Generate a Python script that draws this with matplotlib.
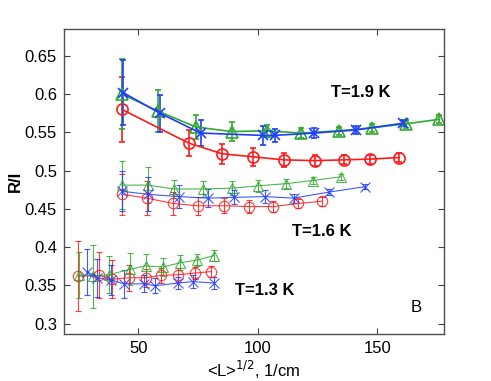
import matplotlib
matplotlib.use("Agg")
import matplotlib.pyplot as plt
from matplotlib.ticker import FormatStrFormatter

plt.rcParams['font.family'] = ['Liberation Sans', 'DejaVu Sans']

# ---- T = 1.9 K ----
x19_red = [43, 71, 85, 98, 111, 124, 136, 147, 159]
y19_red = [0.580, 0.536, 0.522, 0.518, 0.514, 0.513, 0.514, 0.515, 0.517]
e19_red = [0.042, 0.017, 0.013, 0.012, 0.009, 0.007, 0.006, 0.006, 0.006]

x19_green = [43, 58, 74, 89, 104, 118, 134, 148, 162, 176]
y19_green = [0.600, 0.578, 0.557, 0.551, 0.552, 0.549, 0.552, 0.556, 0.561, 0.567]
e19_green = [0.046, 0.027, 0.016, 0.012, 0.008, 0.006, 0.005, 0.005, 0.005, 0.005]

x19_blue = [43.5, 59, 76, 102, 107, 123.5, 141, 161]
y19_blue = [0.602, 0.575, 0.549, 0.546, 0.546, 0.549, 0.553, 0.562]
e19_blue = [0.042, 0.024, 0.017, 0.012, 0.008, 0.006, 0.005, 0.004]

# ---- T = 1.6 K ----
x16_red = [43, 53.5, 64.5, 75, 86, 96.5, 106.5, 117, 127]
y16_red = [0.469, 0.464, 0.457, 0.454, 0.454, 0.453, 0.453, 0.457, 0.460]
e16_red = [0.027, 0.022, 0.015, 0.012, 0.010, 0.008, 0.007, 0.006, 0.006]

x16_green = [43, 54, 65, 77, 89, 100, 112, 123, 135]
y16_green = [0.481, 0.481, 0.476, 0.476, 0.477, 0.480, 0.483, 0.487, 0.492]
e16_green = [0.031, 0.024, 0.012, 0.010, 0.009, 0.008, 0.006, 0.005, 0.004]

x16_blue = [43, 54, 67, 79, 90, 103, 115, 130, 145]
y16_blue = [0.473, 0.469, 0.466, 0.464, 0.465, 0.466, 0.464, 0.472, 0.479]
e16_blue = [0.026, 0.022, 0.015, 0.012, 0.009, 0.008, 0.006, 0.004, 0.003]

# ---- T = 1.3 K ----
x13_red = [24.7, 33.5, 39, 46, 53, 59.4, 66.5, 73.5, 80.3]
y13_red = [0.362, 0.363, 0.358, 0.360, 0.360, 0.363, 0.364, 0.366, 0.368]
e13_red = [0.046, 0.030, 0.025, 0.017, 0.012, 0.010, 0.009, 0.008, 0.007]

x13_green = [25, 31, 37.7, 46.4, 53, 60.2, 67.4, 74.5, 81.7]
y13_green = [0.364, 0.362, 0.364, 0.371, 0.3755, 0.374, 0.3795, 0.383, 0.389]
e13_green = [0.030, 0.041, 0.024, 0.021, 0.015, 0.012, 0.010, 0.008, 0.007]

x13_blue = [28.5, 32.7, 38.5, 44, 52.3, 57, 66.4, 73, 81.6]
y13_blue = [0.368, 0.360, 0.357, 0.352, 0.352, 0.3495, 0.353, 0.355, 0.353]
e13_blue = [0.030, 0.025, 0.020, 0.018, 0.011, 0.010, 0.008, 0.008, 0.008]

x_ticks = [50, 100, 150]
y_ticks = [0.3, 0.35, 0.4, 0.45, 0.5, 0.55, 0.6, 0.65]

RED = '#ff1a1a'
GREEN = '#33a833'
BLUE = '#1f3cff'

W, H = 491, 381
fig = plt.figure(figsize=(W / 100, H / 100), dpi=100)
ax = fig.add_axes([0.1303, 0.1234, 0.774, 0.8005])

def series(x, y, e, color, marker, lw, ms, alpha=1.0):
    ax.errorbar(x, y, yerr=e, color=color, marker=marker, mfc='none', mec=color,
                ms=ms, lw=lw, elinewidth=lw, capsize=2.5, capthick=lw,
                mew=lw, alpha=alpha)

# thick 1.9 K
series(x19_red, y19_red, e19_red, RED, 'o', 1.2, 8)
series(x19_green, y19_green, e19_green, GREEN, '^', 1.2, 8)
series(x19_blue, y19_blue, e19_blue, BLUE, 'x', 1.2, 7.5)

# thin 1.6 K
series(x16_red, y16_red, e16_red, RED, 'o', 0.8, 7.5, 0.85)
series(x16_green, y16_green, e16_green, GREEN, '^', 0.8, 7.5, 0.85)
series(x16_blue, y16_blue, e16_blue, BLUE, 'x', 0.8, 7, 0.85)

# thin 1.3 K
series(x13_red, y13_red, e13_red, RED, 'o', 0.8, 7.5, 0.85)
series(x13_green, y13_green, e13_green, GREEN, '^', 0.8, 7.5, 0.85)
series(x13_blue, y13_blue, e13_blue, BLUE, 'x', 0.8, 7, 0.85)

ax.set_xlim(18.8, 178)
ax.set_ylim(0.2865, 0.685)
ax.set_xticks(x_ticks)
ax.set_yticks(y_ticks)
ax.yaxis.set_major_formatter(FormatStrFormatter('%g'))
ax.tick_params(direction='in', top=True, right=True, labelsize=12, length=4,
               width=0.8, color='#404040', pad=5)
for s in ax.spines.values():
    s.set_color('#505050')
    s.set_linewidth(1.0)

# axis labels placed in figure pixels (as in the reference)
fig.text(15 / W, 1 - 181 / H, 'R/I', fontsize=12, fontweight='bold',
         rotation=90, ha='center', va='center')
fig.text(254 / W, 1 - 370 / H, r'<L>$^{1/2}$, 1/cm', fontsize=12,
         ha='center', va='center')

ax.text(143.1, 0.602, 'T=1.9 K', fontsize=12, fontweight='bold', ha='center', va='center')
ax.text(126.8, 0.421, 'T=1.6 K', fontsize=12, fontweight='bold', ha='center', va='center')
ax.text(103, 0.3428, 'T=1.3 K', fontsize=12, fontweight='bold', ha='center', va='center')
ax.text(166.3, 0.321, 'B', fontsize=12, ha='center', va='center')

fig.savefig('out.png', dpi=100)
